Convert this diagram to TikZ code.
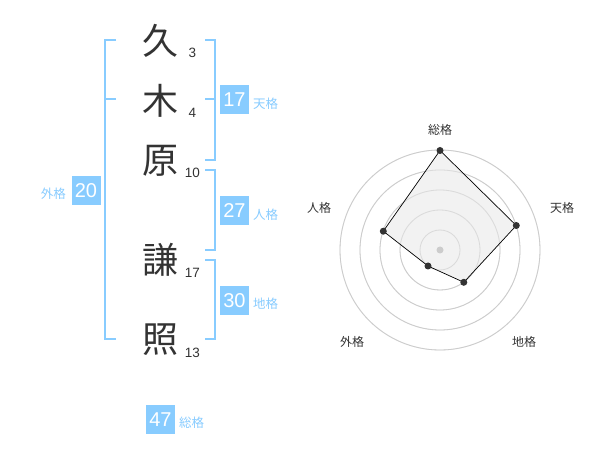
\documentclass[tikz,border=0pt]{standalone}
\usepackage{fontspec}
\setmainfont{Liberation Sans}
\newfontfamily\jp{Noto Sans CJK JP}
\definecolor{skyb}{HTML}{88CCFF}
\definecolor{ink}{HTML}{333333}
\definecolor{ringc}{HTML}{CCCCCC}
\definecolor{polyf}{HTML}{F0F0F0}
\tikzset{
  kanji/.style={font=\jp\fontsize{36}{36}\selectfont, text=ink, inner sep=0pt},
  strokes/.style={font=\fontsize{13.5}{14}\selectfont, text=ink, inner sep=0pt},
  valbox/.style={fill=skyb, text=white, minimum width=29pt, minimum height=29pt, inner sep=0pt, font=\fontsize{20}{20}\selectfont},
  vallabel/.style={font=\jp\fontsize{12.5}{13}\selectfont, text=skyb, inner sep=0pt},
  bracket/.style={draw=skyb, line width=2pt},
  ring/.style={draw=ringc, line width=0.8pt},
  axislabel/.style={font=\jp\fontsize{12}{13}\selectfont, text=ink, inner sep=0pt},
  dot/.style={circle, fill=ink, minimum size=7pt, inner sep=0pt},
}
\begin{document}
\begin{tikzpicture}[x=1pt,y=-1pt]
\useasboundingbox[fill=white] (0,0) rectangle (600,470);
% characters
\node[kanji] (k1) at (160,41) {久};
\node[kanji] (k2) at (160,101) {木};
\node[kanji] (k3) at (160,161) {原};
\node[kanji] (k4) at (160,260) {謙};
\node[kanji] (k5) at (160,340) {照};
\node[strokes] (s1) at (192.5,53) {3};
\node[strokes] (s2) at (192.5,113) {4};
\node[strokes] (s3) at (192.5,173) {10};
\node[strokes] (s4) at (192.5,272.5) {17};
\node[strokes] (s5) at (192.5,352.5) {13};
% left bracket (gaikaku)
\coordinate (lt) at (116,40);
\coordinate (lm) at (116,99.5);
\coordinate (lb) at (116,339.5);
\draw[bracket] (lt) -- (105,40) -- (105,339.5) -- (lb);
\draw[bracket] (105,99.5) -- (lm);
% tenkaku bracket
\coordinate (t1) at (205,40);
\coordinate (t2) at (205,99.5);
\coordinate (t3) at (205,160);
\draw[bracket] (t1) -- (214.5,40) -- (214.5,160) -- (t3);
\draw[bracket] (214.5,99.5) -- (t2);
% jinkaku bracket
\coordinate (j1) at (205,170);
\coordinate (j2) at (205,250);
\draw[bracket] (j1) -- (214.5,170) -- (214.5,250) -- (j2);
% chikaku bracket
\coordinate (c1) at (205,260);
\coordinate (c2) at (205,339.5);
\draw[bracket] (c1) -- (214.5,260) -- (214.5,339.5) -- (c2);
% value boxes
\node[valbox] (b17) at (234.5,99.5) {17};
\node[vallabel, anchor=west] (l17) at (253,104) {天格};
\node[valbox] (b27) at (234.5,211) {27};
\node[vallabel, anchor=west] (l27) at (253,214.5) {人格};
\node[valbox] (b30) at (234.5,301) {30};
\node[vallabel, anchor=west] (l30) at (253,304) {地格};
\node[valbox] (b20) at (86,190.5) {20};
\node[vallabel, anchor=east] (l20) at (66,194) {外格};
\node[valbox] (b47) at (160.5,419.5) {47};
\node[vallabel, anchor=west] (l47) at (179,423) {総格};
% radar chart
\coordinate (ctr) at (440,250);
\foreach \r in {20,40,60,80,100} \draw[ring] (ctr) circle[radius=\r];
\coordinate (p1) at (440,150.5);
\coordinate (p2) at (516.3,225.5);
\coordinate (p3) at (463.8,282.3);
\coordinate (p4) at (428,266);
\coordinate (p5) at (383.3,231.2);
\fill[polyf, opacity=0.85] (p1) -- (p2) -- (p3) -- (p4) -- (p5) -- cycle;
\foreach \r in {20,40,60,80,100} \draw[ring, opacity=0.5] (ctr) circle[radius=\r];
\draw[black, line width=0.7pt] (p1) -- (p2) -- (p3) -- (p4) -- (p5) -- cycle;
\node[circle, fill=ringc, minimum size=7pt, inner sep=0pt] (cdot) at (ctr) {};
\foreach \p in {p1,p2,p3,p4,p5} \node[dot] at (\p) {};
\node[axislabel] (a1) at (440,130) {総格};
\node[axislabel] (a2) at (562,208) {天格};
\node[axislabel] (a3) at (524,342) {地格};
\node[axislabel] (a4) at (352,342) {外格};
\node[axislabel] (a5) at (319,208) {人格};
\end{tikzpicture}
\end{document}
